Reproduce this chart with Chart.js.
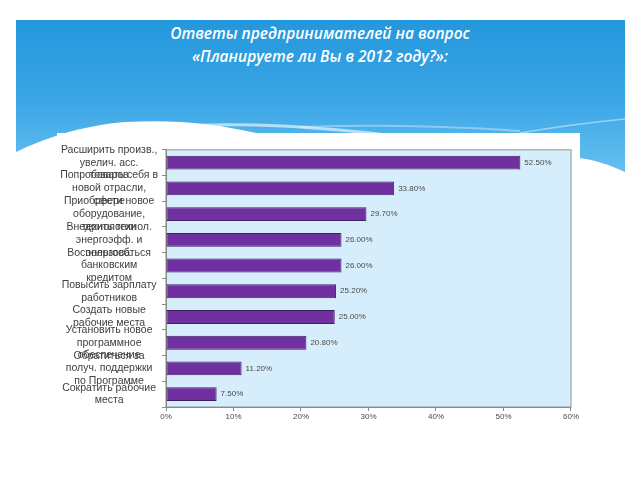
<!DOCTYPE html>
<html>
<head>
<meta charset="utf-8">
<script src="https://cdn.jsdelivr.net/npm/chart.js@4.4.1/dist/chart.umd.min.js"></script>
<style>
  html, body { margin: 0; padding: 0; background: #fff; width: 640px; height: 480px; overflow: hidden; }
  #slide { position: absolute; left: 16px; top: 20px; width: 609px; height: 160px;
           background: linear-gradient(to bottom, #2497dc 0%, #3aa6e6 50%, #6cc2f0 100%); }
  #wave { position: absolute; left: 0; top: 0; }
  #title { position: absolute; left: 0; top: 22px; width: 640px; text-align: center;
           color: #fff; font-family: "Open Sans", sans-serif; font-style: italic; font-weight: 600;
           font-size: 15.5px; line-height: 23px; }
  #box { position: absolute; left: 57px; top: 133px; width: 523px; height: 300px; background: #fff; }
</style>
</head>
<body>
<div id="slide"></div>
<svg id="wave" width="640" height="480">
  <path d="M16,152 C45,138 80,126 125,122 C175,119 220,124 260,134 L580,134 L580,158 C595,160 610,165 625,172 L625,480 L16,480 Z" fill="#fff"/>
  <path d="M180,126 C260,122 320,128 380,134" stroke="rgba(255,255,255,0.6)" stroke-width="3" fill="none"/>
  <path d="M300,127 C380,124 450,126 520,131" stroke="rgba(255,255,255,0.35)" stroke-width="2" fill="none"/>
  <path d="M520,133 C560,126 595,122 625,119" stroke="rgba(255,255,255,0.45)" stroke-width="1.5" fill="none"/>
</svg>
<div id="title">Ответы предпринимателей на вопрос<br>«Планируете ли Вы в 2012 году?»:</div>
<div id="box"><canvas id="barChart"></canvas></div>
<script>
// categories (multi-line, as in the original chart)
var categories = [
    ["Расширить произв.,", "увелич. асс.", "товаров"],
    ["Попробовать себя в", "новой отрасли,", "сфере"],
    ["Приобрести новое", "оборудование,", "технологии"],
    ["Внедрить технол.", "энергоэфф. и", "энергосб."],
    ["Воспользоваться", "банковским", "кредитом"],
    ["Повысить зарплату", "работников"],
    ["Создать новые", "рабочие места"],
    ["Установить новое", "программное", "обеспечение"],
    ["Обратиться за", "получ. поддержки", "по Программе"],
    ["Сократить рабочие", "места"]
];
var values = [52.5, 33.8, 29.7, 26.0, 26.0, 25.2, 25.0, 20.8, 11.2, 7.5];
var xTicks = [0, 10, 20, 30, 40, 50, 60];

var plotBg = {
    id: 'plotBg',
    beforeDraw: function(chart) {
        var a = chart.chartArea, c = chart.ctx;
        c.save();
        c.fillStyle = '#d6eefb';
        c.fillRect(a.left, a.top, a.right - a.left, a.bottom - a.top);
        c.strokeStyle = '#a9b4bb';
        c.lineWidth = 1.5;
        c.strokeRect(a.left, a.top, a.right - a.left, a.bottom - a.top);
        c.restore();
    }
};

var valueLabels = {
    id: 'valueLabels',
    afterDatasetsDraw: function(chart) {
        var c = chart.ctx;
        var meta = chart.getDatasetMeta(0);
        c.save();
        c.font = '8px "Liberation Sans", Arial, sans-serif';
        c.fillStyle = '#4a4a4a';
        c.textBaseline = 'middle';
        c.textAlign = 'left';
        meta.data.forEach(function(bar, i) {
            c.fillText(values[i].toFixed(2) + '%', bar.x + 4, bar.y);
        });
        c.restore();
    }
};

var ctx = document.getElementById("barChart").getContext('2d');
var myChart = new Chart(ctx, {
    type: 'bar',
    data: {
        labels: categories,
        datasets: [{
            data: values,
            backgroundColor: '#7030a0',
            borderColor: '#3d1f63',
            borderWidth: 1,
            borderSkipped: false,
            barPercentage: 0.54,
            categoryPercentage: 1.0
        }]
    },
    options: {
        indexAxis: 'y',
        responsive: true,
        maintainAspectRatio: false,
        animation: false,
        layout: { padding: { top: 12, right: 6, bottom: 4, left: 0 } },
        plugins: {
            legend: { display: false },
            tooltip: { enabled: false }
        },
        scales: {
            x: {
                min: 0, max: 60,
                afterBuildTicks: function(scale) {
                    scale.ticks = xTicks.map(function(v) { return { value: v }; });
                },
                afterFit: function(scale) { scale.height = 22; },
                ticks: {
                    color: '#4a4a4a',
                    font: { family: '"Liberation Sans", Arial, sans-serif', size: 8 },
                    padding: 1,
                    maxRotation: 0,
                    callback: function(v) { return v + '%'; }
                },
                grid: { drawOnChartArea: false, tickLength: 4, color: '#8a8a8a' },
                border: { color: '#8a8a8a' }
            },
            y: {
                afterFit: function(scale) { scale.width = 109; },
                ticks: {
                    autoSkip: false,
                    color: '#404040',
                    crossAlign: 'center',
                    padding: 4,
                    font: { family: '"Liberation Sans", Arial, sans-serif', size: 10.5, lineHeight: 1.22 }
                },
                grid: { drawOnChartArea: false, offset: true, tickLength: 4, color: '#8a8a8a' },
                border: { color: '#8a8a8a' }
            }
        }
    },
    plugins: [plotBg, valueLabels]
});
</script>
</body>
</html>
